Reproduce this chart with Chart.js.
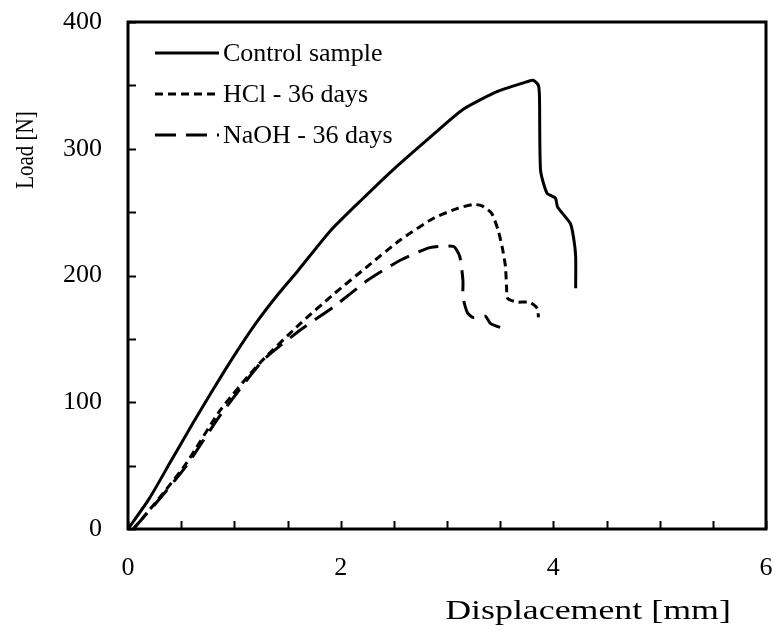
<!DOCTYPE html>
<html lang="en">
<head>
    <meta charset="UTF-8">
    <title>Load - Displacement</title>
    <script src="https://cdn.jsdelivr.net/npm/chart.js"></script>
    <style>
        body { margin: 0; background: #fff; }
        .chart-container { position: relative; width: 776px; height: 637px; }
    </style>
</head>
<body>
    <div class="chart-container">
        <canvas id="loadChart"></canvas>
    </div>

    <script>
        // Data (displacement in mm, load in N)
        const controlX = [0, 0.2, 0.4, 0.6, 0.8, 1.0, 1.2, 1.4, 1.6, 1.9, 2.2, 2.5, 2.84, 3.15, 3.47, 3.72, 3.81, 3.86, 3.87, 3.88, 3.94, 4.02, 4.04, 4.16, 4.19, 4.21, 4.21];
        const controlY = [0, 24, 53, 82, 110, 137, 162, 184, 204, 235, 260, 284, 309, 331, 345, 352, 354, 350, 340, 283, 265, 261, 254, 241, 230, 215, 190];

        const hclX = [0.05, 0.3, 0.55, 0.87, 1.24, 1.62, 1.93, 2.25, 2.56, 2.87, 3.10, 3.25, 3.33, 3.42, 3.48, 3.52, 3.55, 3.56, 3.57, 3.66, 3.78, 3.85, 3.86];
        const hclY = [0, 25, 52, 94, 131, 162, 185, 207, 228, 245, 253, 256, 255, 249, 236, 222, 207, 191, 182, 179, 179, 174, 167];

        const naohX = [0.05, 0.3, 0.55, 0.87, 1.27, 1.62, 1.93, 2.25, 2.56, 2.84, 3.06, 3.12, 3.15, 3.15, 3.19, 3.24, 3.36, 3.41, 3.50];
        const naohY = [0, 24, 50, 90, 133, 157, 175, 196, 212, 222, 223, 215, 196, 183, 171, 167, 168, 162, 159];

        const seriesLabels = ['Control sample', 'HCl - 36 days', 'NaOH - 36 days'];
        const xLabelTicks = [0, 2, 4, 6];
        const yLabelTicks = [0, 100, 200, 300, 400];

        const serif = "'Liberation Serif', 'Times New Roman', serif";

        function toPoints(xs, ys) {
            return xs.map((x, i) => ({ x: x, y: ys[i] }));
        }

        // no extra room for label overflow, the layout padding decides
        function noOverflow(s) {
            s.paddingTop = 0;
            s.paddingBottom = 0;
            s.paddingLeft = 0;
            s.paddingRight = 0;
        }

        // frame, inward ticks, legend and axis titles
        const framePlugin = {
            id: 'framePlugin',
            afterDraw(chart) {
                const ctx = chart.ctx;
                const a = chart.chartArea;
                const xs = chart.scales.x;
                const ys = chart.scales.y;
                ctx.save();
                ctx.strokeStyle = '#000';
                ctx.lineWidth = 2;
                xs.ticks.forEach(t => {
                    const px = Math.round(xs.getPixelForValue(t.value)) + 0.5;
                    ctx.beginPath();
                    ctx.moveTo(px, a.bottom);
                    ctx.lineTo(px, a.bottom - 8);
                    ctx.stroke();
                });
                ys.ticks.forEach(t => {
                    const py = Math.round(ys.getPixelForValue(t.value)) + 0.5;
                    ctx.beginPath();
                    ctx.moveTo(a.left, py);
                    ctx.lineTo(a.left + 8, py);
                    ctx.stroke();
                });
                ctx.lineWidth = 3;
                ctx.strokeRect(a.left, a.top, a.right - a.left, a.bottom - a.top);

                // legend
                ctx.font = '26px ' + serif;
                ctx.fillStyle = '#000';
                ctx.textBaseline = 'middle';
                chart.data.datasets.forEach((ds, i) => {
                    const y = a.top + 31 + i * 41;
                    ctx.setLineDash(ds.borderDash || []);
                    ctx.lineWidth = 3;
                    ctx.beginPath();
                    ctx.moveTo(a.left + 27, y);
                    ctx.lineTo(a.left + 91, y);
                    ctx.stroke();
                    ctx.setLineDash([]);
                    ctx.fillText(ds.label, a.left + 95, y + 1);
                });

                // axis titles
                ctx.textAlign = 'center';
                ctx.save();
                ctx.font = '28px ' + serif;
                ctx.translate(588, 612);
                ctx.scale(1.28, 1);
                ctx.fillText('Displacement [mm]', 0, 0);
                ctx.restore();
                ctx.font = '25px ' + serif;
                ctx.translate(26, 150);
                ctx.rotate(-Math.PI / 2);
                ctx.scale(0.84, 1);
                ctx.fillText('Load [N]', 0, 0);
                ctx.restore();
            }
        };

        const lineStyle = {
            borderColor: '#000',
            backgroundColor: '#000',
            borderWidth: 3,
            pointRadius: 0,
            tension: 0.2,
            fill: false
        };

        const ctx = document.getElementById('loadChart').getContext('2d');
        new Chart(ctx, {
            type: 'line',
            data: {
                datasets: [
                    Object.assign({ label: seriesLabels[0], data: toPoints(controlX, controlY) }, lineStyle),
                    Object.assign({ label: seriesLabels[1], data: toPoints(hclX, hclY), borderDash: [8, 5] }, lineStyle),
                    Object.assign({ label: seriesLabels[2], data: toPoints(naohX, naohY), borderDash: [21, 10] }, lineStyle)
                ]
            },
            options: {
                responsive: true,
                maintainAspectRatio: false,
                animation: false,
                layout: { padding: { left: 0, right: 10, top: 22, bottom: 0 } },
                plugins: {
                    legend: { display: false },
                    tooltip: { enabled: false }
                },
                scales: {
                    x: {
                        type: 'linear',
                        min: 0,
                        max: 6,
                        grid: { display: false },
                        border: { display: false },
                        ticks: {
                            stepSize: 0.5,
                            autoSkip: false,
                            maxRotation: 0,
                            padding: 16,
                            color: '#000',
                            font: { family: serif, size: 26 },
                            callback: v => xLabelTicks.includes(v) ? v : ''
                        },
                        afterFit: s => { s.height = 108; noOverflow(s); }
                    },
                    y: {
                        min: 0,
                        max: 400,
                        grid: { display: false },
                        border: { display: false },
                        ticks: {
                            stepSize: 50,
                            autoSkip: false,
                            padding: 18,
                            color: '#000',
                            font: { family: serif, size: 26 },
                            callback: v => yLabelTicks.includes(v) ? v : ''
                        },
                        afterFit: s => { s.width = 128; noOverflow(s); }
                    }
                }
            },
            plugins: [framePlugin]
        });
    </script>
</body>
</html>
